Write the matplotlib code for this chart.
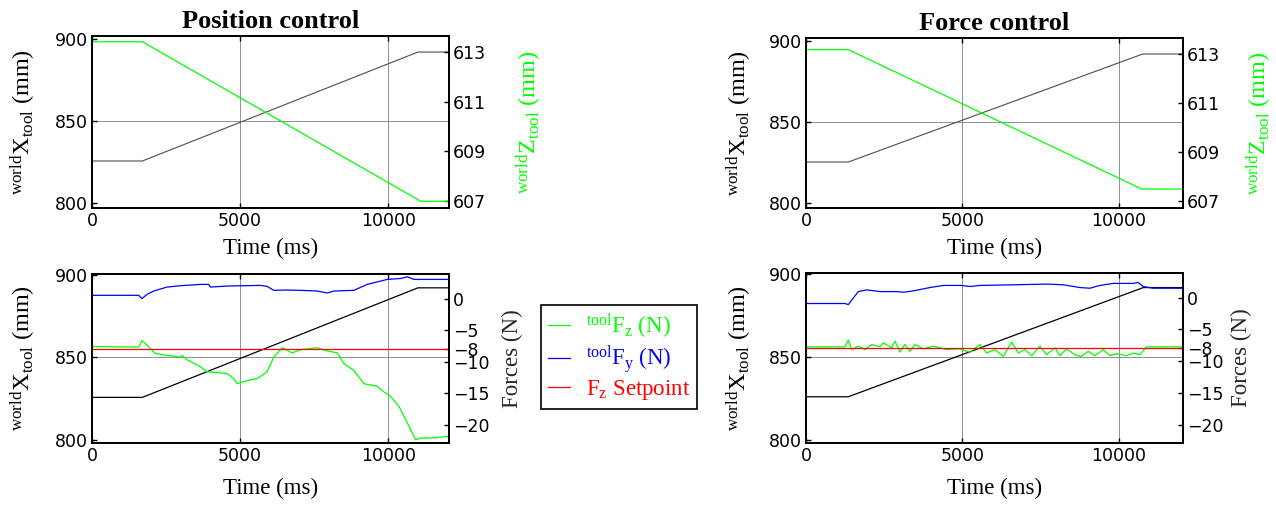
import matplotlib
matplotlib.use('Agg')
import matplotlib.pyplot as plt

plt.rcParams['font.family'] = ['DejaVu Sans']
plt.rcParams['mathtext.fontset'] = 'custom'
plt.rcParams['mathtext.rm'] = 'Liberation Serif'
plt.rcParams['mathtext.it'] = 'Liberation Serif:italic'
plt.rcParams['mathtext.bf'] = 'Liberation Serif:bold'

# ---------------- data ----------------
t_end = 12050

# Position control - tool X (left axis, mm) and tool Z (right axis, mm)
pos_x_t = [0, 1700, 11000, t_end]
pos_x = [825.7, 825.7, 892.2, 892.2]
pos_z_t = [0, 1700, 11100, t_end]
pos_z = [613.4, 613.4, 607.0, 607.0]

# Position control - forces (N)
pos_fz_t = [0, 1577, 1690, 1858, 2140, 2534, 2984, 3040, 3209, 3660, 3885,
            4560, 4785, 4898, 5236, 5574, 5912, 6137, 6419, 6757, 7038, 7601,
            7939, 8277, 8502, 8840, 9178, 9628, 9853, 10078, 10360, 10641,
            10922, 11091, 11541, t_end]
pos_fz = [-7.6, -7.7, -6.65, -7.4, -8.7, -9.0, -9.27, -9.0, -9.7, -10.8,
          -11.6, -11.9, -12.7, -13.5, -13.0, -12.7, -11.6, -9.27, -7.8, -8.6,
          -8.1, -7.8, -8.3, -8.6, -10.3, -11.4, -13.5, -13.9, -14.8, -15.5,
          -17.1, -19.7, -22.4, -22.1, -22.1, -21.8]
pos_fy_t = [0, 1576, 1689, 1858, 2083, 2534, 2984, 3660, 3941, 3997, 4560,
            5686, 5912, 6137, 6587, 7038, 7601, 7939, 8164, 8840, 9290, 9965,
            10415, 10641, 10866, t_end]
pos_fy = [0.52, 0.52, 0.0, 0.68, 1.2, 1.83, 2.04, 2.25, 2.25, 1.83, 1.99,
          2.09, 1.94, 1.31, 1.36, 1.31, 1.2, 0.89, 1.2, 1.31, 2.25, 3.04,
          3.19, 3.46, 3.04, 3.04]

# Force control - tool X and tool Z
frc_x_t = [0, 1350, 10760, t_end]
frc_x = [825.4, 825.4, 892.1, 892.1]
frc_z_t = [0, 1350, 10730, t_end]
frc_z = [613.16, 613.16, 607.5, 607.5]
frc_x2_t = [0, 1350, 10780, t_end]
frc_x2 = [825.9, 825.9, 891.8, 891.8]

# Force control - forces (N)
frc_fz_t = [0, 1246, 1352, 1459, 1672, 1885, 2098, 2364, 2471, 2737, 2843,
            3003, 3163, 3323, 3483, 3749, 4068, 4494, 4920, 5240, 5559, 5772,
            6039, 6305, 6571, 6784, 6997, 7210, 7476, 7689, 7956, 8115, 8328,
            8594, 8807, 9020, 9233, 9500, 9713, 9926, 10245, 10458, 10671,
            10884, t_end]
frc_fz = [-7.74, -7.74, -6.67, -8.17, -7.63, -8.17, -7.37, -7.74, -7.1,
          -7.9, -6.83, -8.55, -7.37, -8.44, -7.37, -8.06, -7.63, -8.17,
          -8.06, -8.6, -7.37, -8.71, -8.17, -9.25, -6.99, -8.71, -8.17,
          -9.14, -7.63, -8.98, -7.9, -9.14, -8.06, -8.98, -9.25, -8.44,
          -9.14, -8.17, -9.14, -8.82, -9.14, -8.71, -8.98, -7.74, -7.74]
frc_fy_t = [0, 1246, 1352, 1459, 1672, 1938, 2364, 2897, 3110, 3429, 3962,
            4388, 4974, 5240, 5559, 6624, 7689, 8222, 8754, 9074, 9393, 9819,
            10458, 10618, 10778, 11097, t_end]
frc_fy = [-0.91, -0.91, -1.08, -0.38, 0.97, 1.24, 0.97, 0.97, 0.86, 1.08,
          1.61, 1.94, 1.94, 1.77, 1.94, 2.04, 2.15, 2.04, 1.61, 1.5, 1.94,
          2.26, 2.26, 2.42, 1.77, 1.5, 1.5]

fz_setpoint = -8
setpoint_t = [0, t_end]

x_ticks = [0, 5000, 10000]
x_left_ticks = [800, 850, 900]
z_ticks = [607, 609, 611, 613]
f_ticks = [-20, -15, -10, -8, -5, 0]

GREEN = '#00ff00'
BLUE = '#0000ff'
RED = '#ff0000'
SERIF = 'Liberation Serif'
LBL = 16.5
YLBL = 17.5
TCK = 12.5

xlabel_txt = 'Time (ms)'
xtool_txt = r'$^{\rm world}{\rm X}_{\rm tool}$ (mm)'
ztool_txt = r'$^{\rm world}{\rm Z}_{\rm tool}$ (mm)'


def style(ax, right=False):
    for s in ax.spines.values():
        s.set_linewidth(1.3)
    ax.tick_params(direction='in', length=3.5, width=1.0, labelsize=TCK,
                   pad=3)
    if not right:
        ax.tick_params(top=True, right=True)


def base_axes(rect, ylim, ylab_x, xpad):
    ax = fig.add_axes(rect)
    ax.set_xlim(0, t_end)
    ax.set_ylim(*ylim)
    ax.set_xticks(x_ticks)
    ax.set_yticks(x_left_ticks)
    ax.grid(True, color='0.5', lw=0.6)
    for gl, v in zip(ax.get_ygridlines(), x_left_ticks):
        gl.set_visible(v == 850)
    style(ax)
    ax.set_xlabel(xlabel_txt, fontsize=LBL, family=SERIF, labelpad=xpad)
    ax.set_ylabel(xtool_txt, fontsize=YLBL, family=SERIF)
    ax.yaxis.set_label_coords(ylab_x, 0.5)
    return ax


W, H = 1276, 507
fig = plt.figure(figsize=(W / 100, H / 100), dpi=100)


def rect(x0, x1, y0, y1):
    return [x0 / W, 1 - y1 / H, (x1 - x0) / W, (y1 - y0) / H]


panels = [
    ('Position control', rect(92, 449, 36, 208), rect(92, 449, 274, 443),
     (pos_x_t, pos_x, pos_z_t, pos_z),
     (pos_x_t, pos_x, pos_fz_t, pos_fz, pos_fy_t, pos_fy),
     -0.151, 1.185, 1.148),
    ('Force control', rect(806, 1183, 38, 208), rect(806, 1183, 273, 443),
     (frc_x_t, frc_x, frc_z_t, frc_z),
     (frc_x2_t, frc_x2, frc_fz_t, frc_fz, frc_fy_t, frc_fy),
     -0.138, 1.162, 1.127),
]

legend_handles = None
for title, r_top, r_bot, top_d, bot_d, xlab_x, zlab_x, flab_x in panels:
    # top: X and Z of the tool
    ax = base_axes(r_top, (797, 902), xlab_x, 5.5)
    ax.set_title(title, fontsize=19, family=SERIF, fontweight='bold', pad=5.5)
    ax.plot(top_d[0], top_d[1], color='0.3', lw=0.8)
    az = ax.twinx()
    az.set_ylim(606.73, 613.63)
    az.set_yticks(z_ticks)
    style(az, right=True)
    az.plot(top_d[2], top_d[3], color=GREEN, lw=0.9)
    az.set_ylabel(ztool_txt, fontsize=YLBL, family=SERIF, color=GREEN)
    az.yaxis.set_label_coords(zlab_x, 0.5)

    # bottom: X of the tool and forces
    ax = base_axes(r_bot, (798, 900.6), xlab_x, 9)
    ax.plot(bot_d[0], bot_d[1], color='black', lw=0.9)
    af = ax.twinx()
    af.set_ylim(-22.9, 3.9)
    af.set_yticks(f_ticks)
    style(af, right=True)
    h1, = af.plot(bot_d[2], bot_d[3], color=GREEN, lw=0.9)
    h2, = af.plot(bot_d[4], bot_d[5], color=BLUE, lw=0.9)
    h3, = af.plot(setpoint_t, [fz_setpoint] * 2, color=RED, lw=0.9)
    af.set_ylabel('Forces (N)', fontsize=LBL, family=SERIF, color='0.15')
    af.yaxis.set_label_coords(flab_x, 0.5)
    legend_handles = (h1, h2, h3)

leg = fig.legend(legend_handles,
                 [r'$^{\rm tool}{\rm F}_{\rm z}$ (N)',
                  r'$^{\rm tool}{\rm F}_{\rm y}$ (N)',
                  r'${\rm F}_{\rm z}$ Setpoint'],
                 loc='center', bbox_to_anchor=(619 / W, 1 - 357 / H),
                 prop={'family': SERIF, 'size': LBL}, labelcolor='linecolor',
                 fancybox=False, framealpha=1, edgecolor='black',
                 handlelength=0.95, handletextpad=0.7, borderpad=0.3,
                 labelspacing=0.1, borderaxespad=0)
leg.get_frame().set_linewidth(1.2)

fig.savefig('out.png', dpi=100)
